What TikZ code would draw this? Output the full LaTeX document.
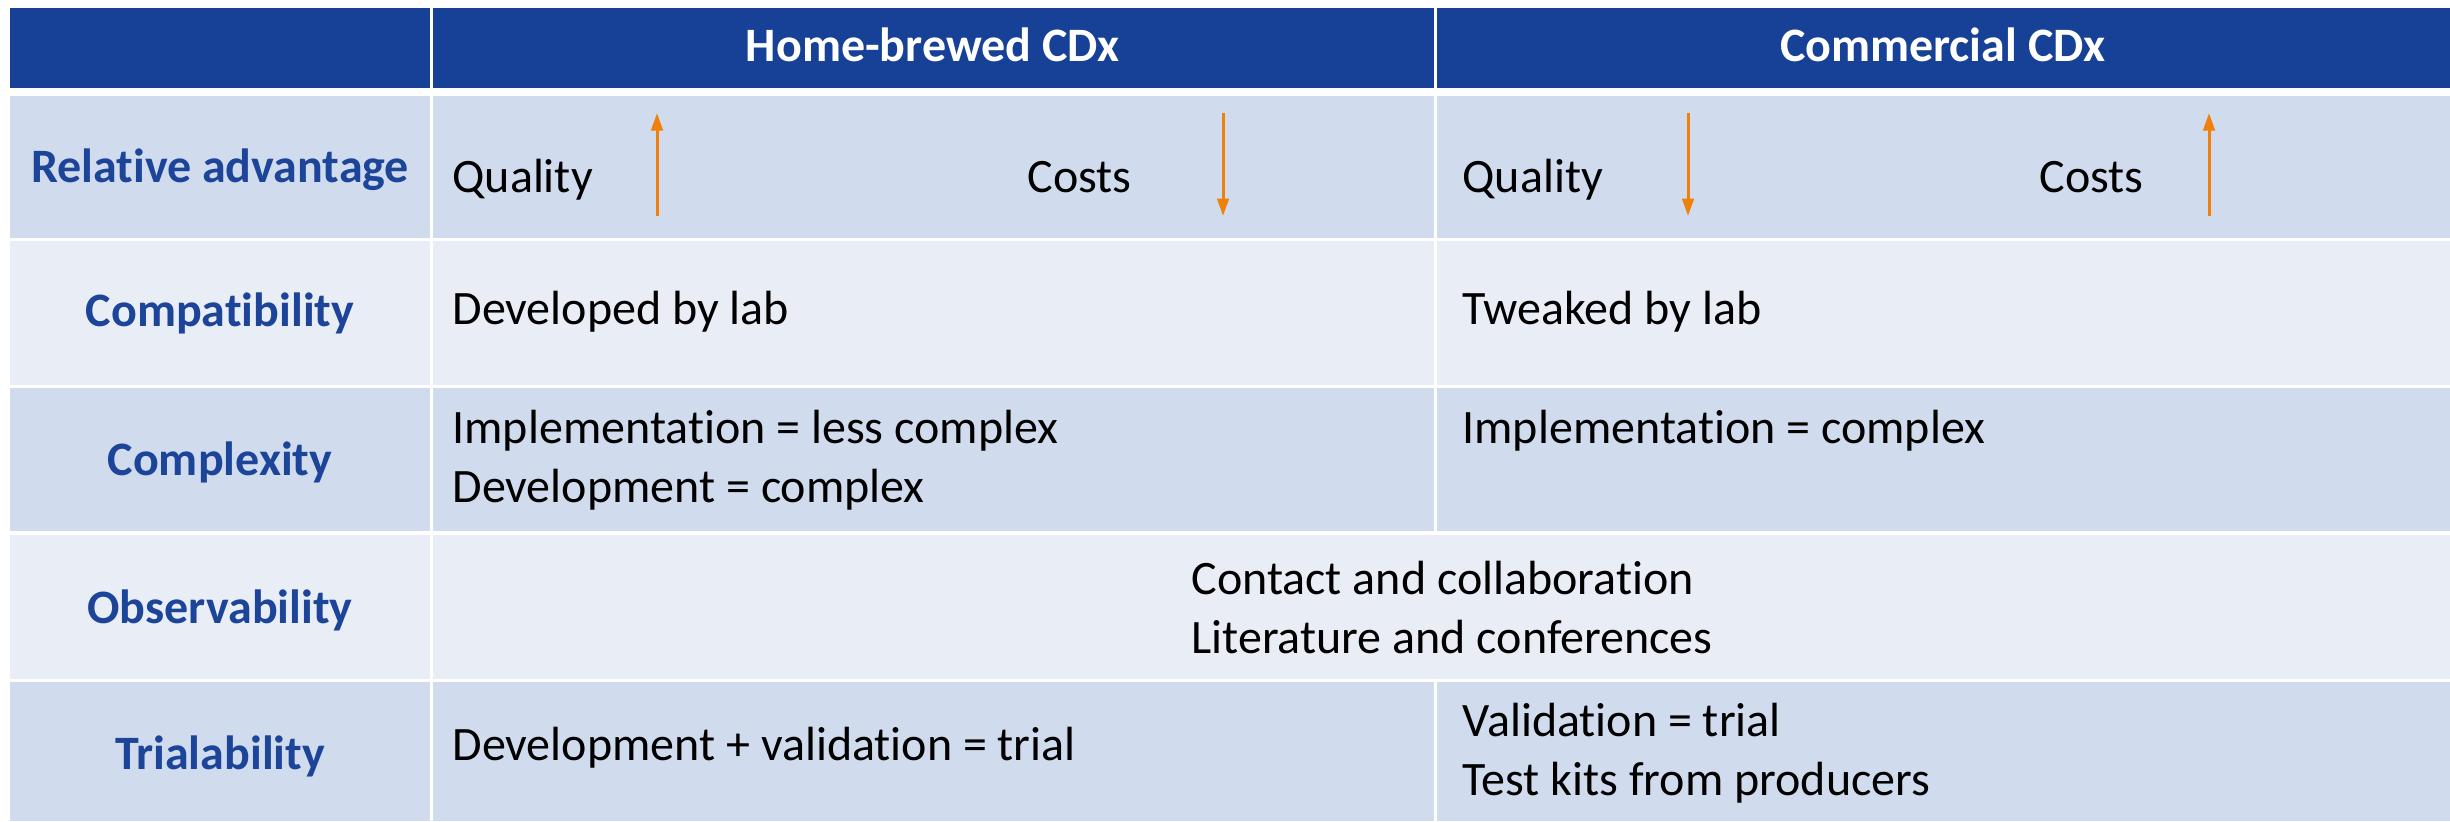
\documentclass[tikz,border=0pt]{standalone}
\usepackage{fontspec}
\setmainfont[Ligatures=NoCommon]{Carlito}
\usetikzlibrary{arrows.meta}
\definecolor{hdblue}{RGB}{22,65,150}
\definecolor{lbblue}{RGB}{28,68,152}
\definecolor{rowdark}{RGB}{208,220,238}
\definecolor{rowlight}{RGB}{233,237,246}
\definecolor{arrorange}{RGB}{240,128,10}
\tikzset{
  headtxt/.style={text=white, font=\fontsize{19.2}{23}\selectfont\bfseries, inner sep=0pt},
  labeltxt/.style={text=lbblue, font=\fontsize{19.2}{23}\selectfont\bfseries, inner sep=0pt},
  celltxt/.style={font=\fontsize{19.2}{23.3}\selectfont, align=left, inner sep=0pt},
  trend/.style={arrorange, line width=1.2pt, ->}
}
\begin{document}
\begin{tikzpicture}[x=0.4pt, y=-0.4pt, >={Triangle[length=7pt,width=4.6pt]}]
\useasboundingbox (0,0) rectangle (2450,821);
\fill[hdblue] (10,8) rectangle (430,88);
\fill[hdblue] (433,8) rectangle (1434,88);
\fill[hdblue] (1437,8) rectangle (2450,88);
\fill[rowdark] (10,96) rectangle (430,238);
\fill[rowdark] (433,96) rectangle (1434,238);
\fill[rowdark] (1437,96) rectangle (2450,238);
\fill[rowlight] (10,241) rectangle (430,385);
\fill[rowlight] (433,241) rectangle (1434,385);
\fill[rowlight] (1437,241) rectangle (2450,385);
\fill[rowdark] (10,388) rectangle (430,531);
\fill[rowdark] (433,388) rectangle (1434,531);
\fill[rowdark] (1437,388) rectangle (2450,531);
\fill[rowlight] (10,535) rectangle (430,679);
\fill[rowlight] (433,535) rectangle (2450,679);
\fill[rowdark] (10,682) rectangle (430,821);
\fill[rowdark] (433,682) rectangle (1434,821);
\fill[rowdark] (1437,682) rectangle (2450,821);
\node (homebrew) at (933,61) [headtxt, anchor=base] {Home-brewed CDx};
\node (commercial) at (1943,61) [headtxt, anchor=base] {Commercial CDx};
\node (reladv) at (220,182) [labeltxt, anchor=base] {Relative advantage};
\node (compat) at (220,326) [labeltxt, anchor=base] {Compatibility};
\node (complex) at (220,475) [labeltxt, anchor=base] {Complexity};
\node (observ) at (220,623) [labeltxt, anchor=base] {Observability};
\node (trial) at (220,769) [labeltxt, anchor=base] {Trialability};
\node (hqual) at (452,192) [celltxt, anchor=base west] {Quality};
\node (hcost) at (1027,192) [celltxt, anchor=base west] {Costs};
\node (cqual) at (1462,192) [celltxt, anchor=base west] {Quality};
\node (ccost) at (2039,192) [celltxt, anchor=base west] {Costs};
\coordinate (hqlow) at (657,216);
\coordinate (hqtop) at (657,113);
\coordinate (hclow) at (1223,216);
\coordinate (hctop) at (1223,113);
\coordinate (cqlow) at (1688,216);
\coordinate (cqtop) at (1688,113);
\coordinate (cclow) at (2209,216);
\coordinate (cctop) at (2209,113);
\draw [trend] (hqlow) -- (hqtop);
\draw [trend] (hctop) -- (hclow);
\draw [trend] (cqtop) -- (cqlow);
\draw [trend] (cclow) -- (cctop);
\node (hcompat) at (452,324) [celltxt, anchor=base west] {Developed by lab};
\node (ccompat) at (1462,324) [celltxt, anchor=base west] {Tweaked by lab};
\node (hcomplex) at (452,502) [celltxt, anchor=base west] {Implementation = less complex\\Development = complex};
\node (ccomplex) at (1462,443) [celltxt, anchor=base west] {Implementation = complex};
\node (observtxt) at (1191,653) [celltxt, anchor=base west] {Contact and collaboration\\Literature and conferences};
\node (htrial) at (452,760) [celltxt, anchor=base west] {Development + validation = trial};
\node (ctrial) at (1462,795) [celltxt, anchor=base west] {Validation = trial\\Test kits from producers};
\end{tikzpicture}
\end{document}
